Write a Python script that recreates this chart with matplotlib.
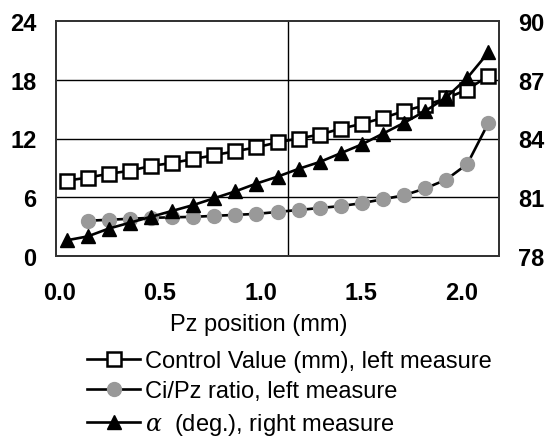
import matplotlib
matplotlib.use("Agg")
import matplotlib.pyplot as plt
import numpy as np

plt.rcParams['font.family'] = ['Liberation Sans', 'DejaVu Sans']
plt.rcParams['mathtext.fontset'] = 'dejavuserif'

# Data
pz = [0.0, 0.1, 0.2, 0.3, 0.4, 0.5, 0.6, 0.7, 0.8, 0.9, 1.0,
      1.1, 1.2, 1.3, 1.4, 1.5, 1.6, 1.7, 1.8, 1.9, 2.0]
control_value = [7.7, 8.0, 8.4, 8.7, 9.2, 9.5, 9.9, 10.3, 10.7, 11.1, 11.6,
                 12.0, 12.4, 13.0, 13.5, 14.1, 14.8, 15.4, 16.1, 17.0, 18.4]
pz_ratio_x = pz[1:]
ci_pz_ratio = [3.6, 3.7, 3.8, 3.9, 3.95, 4.0, 4.1, 4.2, 4.3, 4.5,
               4.7, 4.9, 5.1, 5.4, 5.8, 6.2, 6.9, 7.8, 9.4, 13.6]
alpha_deg = [78.8, 79.0, 79.4, 79.7, 80.0, 80.3, 80.6, 80.95, 81.3, 81.7, 82.05,
             82.45, 82.8, 83.25, 83.7, 84.25, 84.8, 85.4, 86.1, 87.1, 88.4]

left_ticks = [0, 6, 12, 18, 24]
right_ticks = [78, 81, 84, 87, 90]
x_tick_labels = ['0.0', '0.5', '1.0', '1.5', '2.0']

fig = plt.figure(figsize=(5.47, 4.39), dpi=100)
ax = fig.add_axes([56/547, 1-257/439, 443/547, 235/439])
ax2 = ax.twinx()

fs = 17
ax.set_xlim(-0.05, 2.05)
ax.set_ylim(0, 24)
ax2.set_ylim(78, 90)
ax.set_yticks(left_ticks)
ax2.set_yticks(right_ticks)
ax.tick_params(axis='y', length=0, pad=14, labelsize=fs)
ax2.tick_params(axis='y', length=0, pad=14, labelsize=fs)
for lab in ax.get_yticklabels():
    lab.set_fontweight('bold')
for lab in ax2.get_yticklabels():
    lab.set_fontweight('bold')

# x tick labels positions (label layout, offset as in reference)
xtick_pos = np.linspace(-0.033, 1.872, len(x_tick_labels))
ax.set_xticks(xtick_pos)
ax.set_xticklabels(x_tick_labels, fontsize=fs, fontweight='bold')
ax.tick_params(axis='x', length=0, pad=18)
ax.set_xlabel('Pz position (mm)', fontsize=fs)
ax.xaxis.set_label_coords((259 - 56) / 443, -(325 - 257) / 235)
ax.xaxis.label.set_verticalalignment('center')

for y in left_ticks[1:-1]:
    ax.axhline(y, color='black', lw=1.0, zorder=1)
ax.axvline(1.05, color='black', lw=1.0, zorder=1)
for sp in list(ax.spines.values()) + list(ax2.spines.values()):
    sp.set_color('#333333')
    sp.set_linewidth(1.3)

l1, = ax.plot(pz, control_value, color='black', lw=1.9, marker='s', ms=9.5,
              mfc='white', mec='black', mew=1.8, zorder=4,
              label='Control Value (mm), left measure')
l2, = ax.plot(pz_ratio_x, ci_pz_ratio, color='black', lw=1.9, marker='o', ms=10,
              mfc='#999999', mec='#999999', zorder=3,
              label='Ci/Pz ratio, left measure')
l3, = ax2.plot(pz, alpha_deg, color='black', lw=1.9, marker='^', ms=10,
               mfc='black', mec='black', zorder=5,
               label=r'$\alpha$  (deg.), right measure')

fig.legend(handles=[l1, l2, l3], loc='upper left', bbox_to_anchor=(87/547, 1-351/439),
           frameon=False, fontsize=fs, handlelength=2.25, handletextpad=0.2,
           labelspacing=0.36, borderpad=0, borderaxespad=0)

fig.savefig('out.png', dpi=100)
